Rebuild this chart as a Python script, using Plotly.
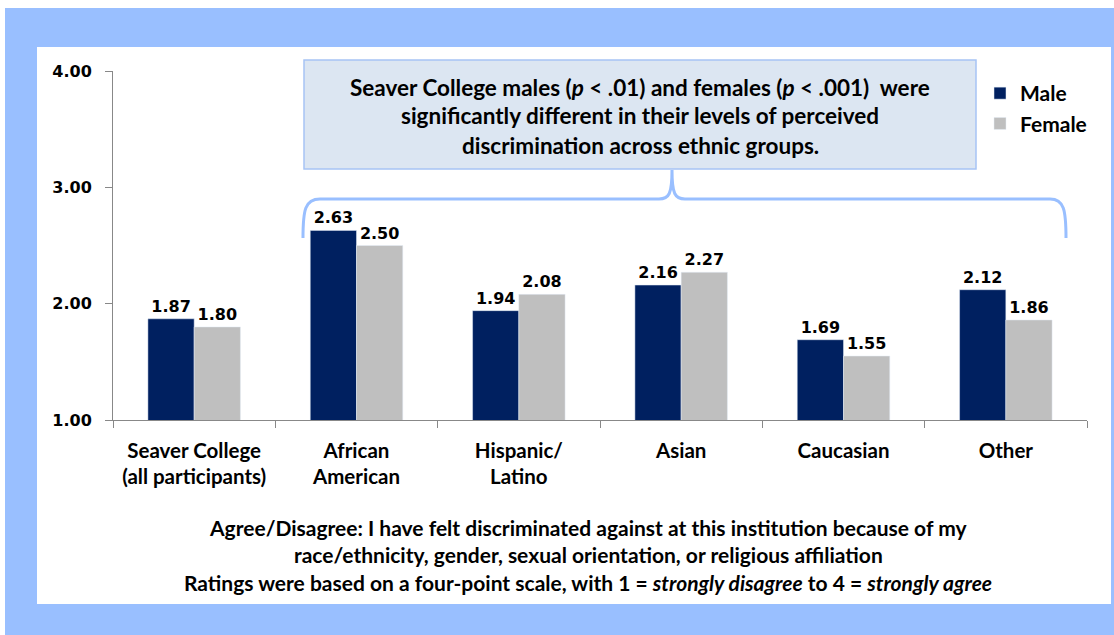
import plotly.graph_objects as go

# data
categories = ["Seaver College (all participants)", "African American", "Hispanic/Latino",
              "Asian", "Caucasian", "Other"]
tick_labels = ["Seaver College<br>(all participants)", "African<br>American", "Hispanic/<br>Latino",
               "Asian", "Caucasian", "Other"]
male = [1.87, 2.63, 1.94, 2.16, 1.69, 2.12]
female = [1.80, 2.50, 2.08, 2.27, 1.55, 1.86]
y_ticks = [1, 2, 3, 4]

callout_lines = [
    "Seaver College males (<i>p</i> &lt; .01) and females (<i>p</i> &lt; .001)  were",
    "significantly different in their levels of perceived",
    "discrimination across ethnic groups.",
]
caption_lines = [
    "Agree/Disagree: I have felt discriminated against at this institution because of my",
    "race/ethnicity, gender, sexual orientation, or religious affiliation",
    "Ratings were based on a four-point scale, with 1 = <i>strongly disagree</i> to 4 = <i>strongly agree</i>",
]

W, H = 1114, 635
TXT = "Lato"
NUM = "DejaVu Sans"
FRAME = "#99BFFF"


def px(x):
    return x / W


def py(y):
    return 1 - y / H


fig = go.Figure()
fig.add_trace(go.Bar(
    x=categories, y=male, name="Male", marker_color="#002060", legendgroup="m",
    text=[f"{v:.2f}" for v in male], textposition="outside", cliponaxis=False,
    textfont=dict(family=NUM, size=16, color="black", weight="bold"),
))
fig.add_trace(go.Bar(
    x=categories, y=female, name="Female", marker_color="#BFBFBF", legendgroup="f",
    text=[f"{v:.2f}" for v in female], textposition="outside", cliponaxis=False,
    textfont=dict(family=NUM, size=16, color="black", weight="bold"),
))

shapes = [
    # outer blue frame and inner white panel
    dict(type="rect", xref="paper", yref="paper", x0=px(5), x1=px(1114), y0=py(635), y1=py(8),
         fillcolor=FRAME, line_width=0, layer="below"),
    dict(type="rect", xref="paper", yref="paper", x0=px(37), x1=px(1111), y0=py(604), y1=py(47),
         fillcolor="white", line_width=0, layer="below"),
    # callout box
    dict(type="rect", xref="paper", yref="paper", x0=px(304), x1=px(976), y0=py(169), y1=py(60),
         fillcolor="#DCE6F2", line=dict(color="#A6C4F5", width=1.5)),
]

# curly brace under the callout
pts = [(303, 238), (303, 210), (305, 199), (320, 199), (659, 199), (669, 199), (672, 194), (672, 170),
       (672, 194), (675, 199), (685, 199), (1050, 199), (1064, 199), (1066, 210), (1066, 238)]
p = [f"{px(a):.5f},{py(b):.5f}" for a, b in pts]
path = (f"M {p[0]} C {p[1]} {p[2]} {p[3]} L {p[4]} C {p[5]} {p[6]} {p[7]} "
        f"C {p[8]} {p[9]} {p[10]} L {p[11]} C {p[12]} {p[13]} {p[14]}")
shapes.append(dict(type="path", xref="paper", yref="paper", path=path,
                   line=dict(color=FRAME, width=3)))

annotations = []
for i, line in enumerate(callout_lines):
    annotations.append(dict(xref="paper", yref="paper", x=px(640), y=py(87 + 29 * i), text=line,
                            showarrow=False, xanchor="center", yanchor="middle",
                            font=dict(family=TXT, size=22.5, color="black", weight="bold")))
for i, line in enumerate(caption_lines):
    annotations.append(dict(xref="paper", yref="paper", x=px(588), y=py(527 + 27.5 * i), text=line,
                            showarrow=False, xanchor="center", yanchor="middle",
                            font=dict(family=TXT, size=21, color="black", weight="bold")))

fig.update_layout(
    width=W, height=H, autosize=False,
    margin=dict(l=0, r=0, t=0, b=0, pad=0, autoexpand=False),
    paper_bgcolor="white", plot_bgcolor="rgba(0,0,0,0)",
    barmode="group", bargap=0.43, bargroupgap=0,
    shapes=shapes, annotations=annotations,
    legend=dict(x=px(980), y=py(73), xanchor="left", yanchor="top", tracegroupgap=0,
                bgcolor="rgba(0,0,0,0)",
                font=dict(family=TXT, size=21, color="black", weight="bold")),
    xaxis=dict(domain=[px(113), px(1087)], tickmode="array", tickvals=categories, ticktext=tick_labels,
               tickson="boundaries", ticks="outside", ticklen=7, tickcolor="#888",
               showline=True, linecolor="#888", linewidth=1, showgrid=False,
               tickfont=dict(family=TXT, size=20.5, color="black", weight="bold"),
               ticklabelstandoff=12),
    yaxis=dict(domain=[py(420), py(71)], range=[1, 4], tickvals=y_ticks, tickformat=".2f",
               ticks="outside", ticklen=7, tickcolor="#888", showline=True, linecolor="#888",
               linewidth=1, showgrid=False, zeroline=False,
               tickfont=dict(family=NUM, size=16, color="black", weight="bold"),
               ticklabelstandoff=10),
)

# pin the graph to the window corner so page margins do not shift it
pin = ("document.body.style.margin='0';"
       "document.documentElement.style.overflow='hidden';"
       "var d=document.getElementById('{plot_id}');"
       "d.style.position='fixed';d.style.top='0';d.style.left='0';")
fig.write_html("out.html", config={"displayModeBar": False}, post_script=pin)
